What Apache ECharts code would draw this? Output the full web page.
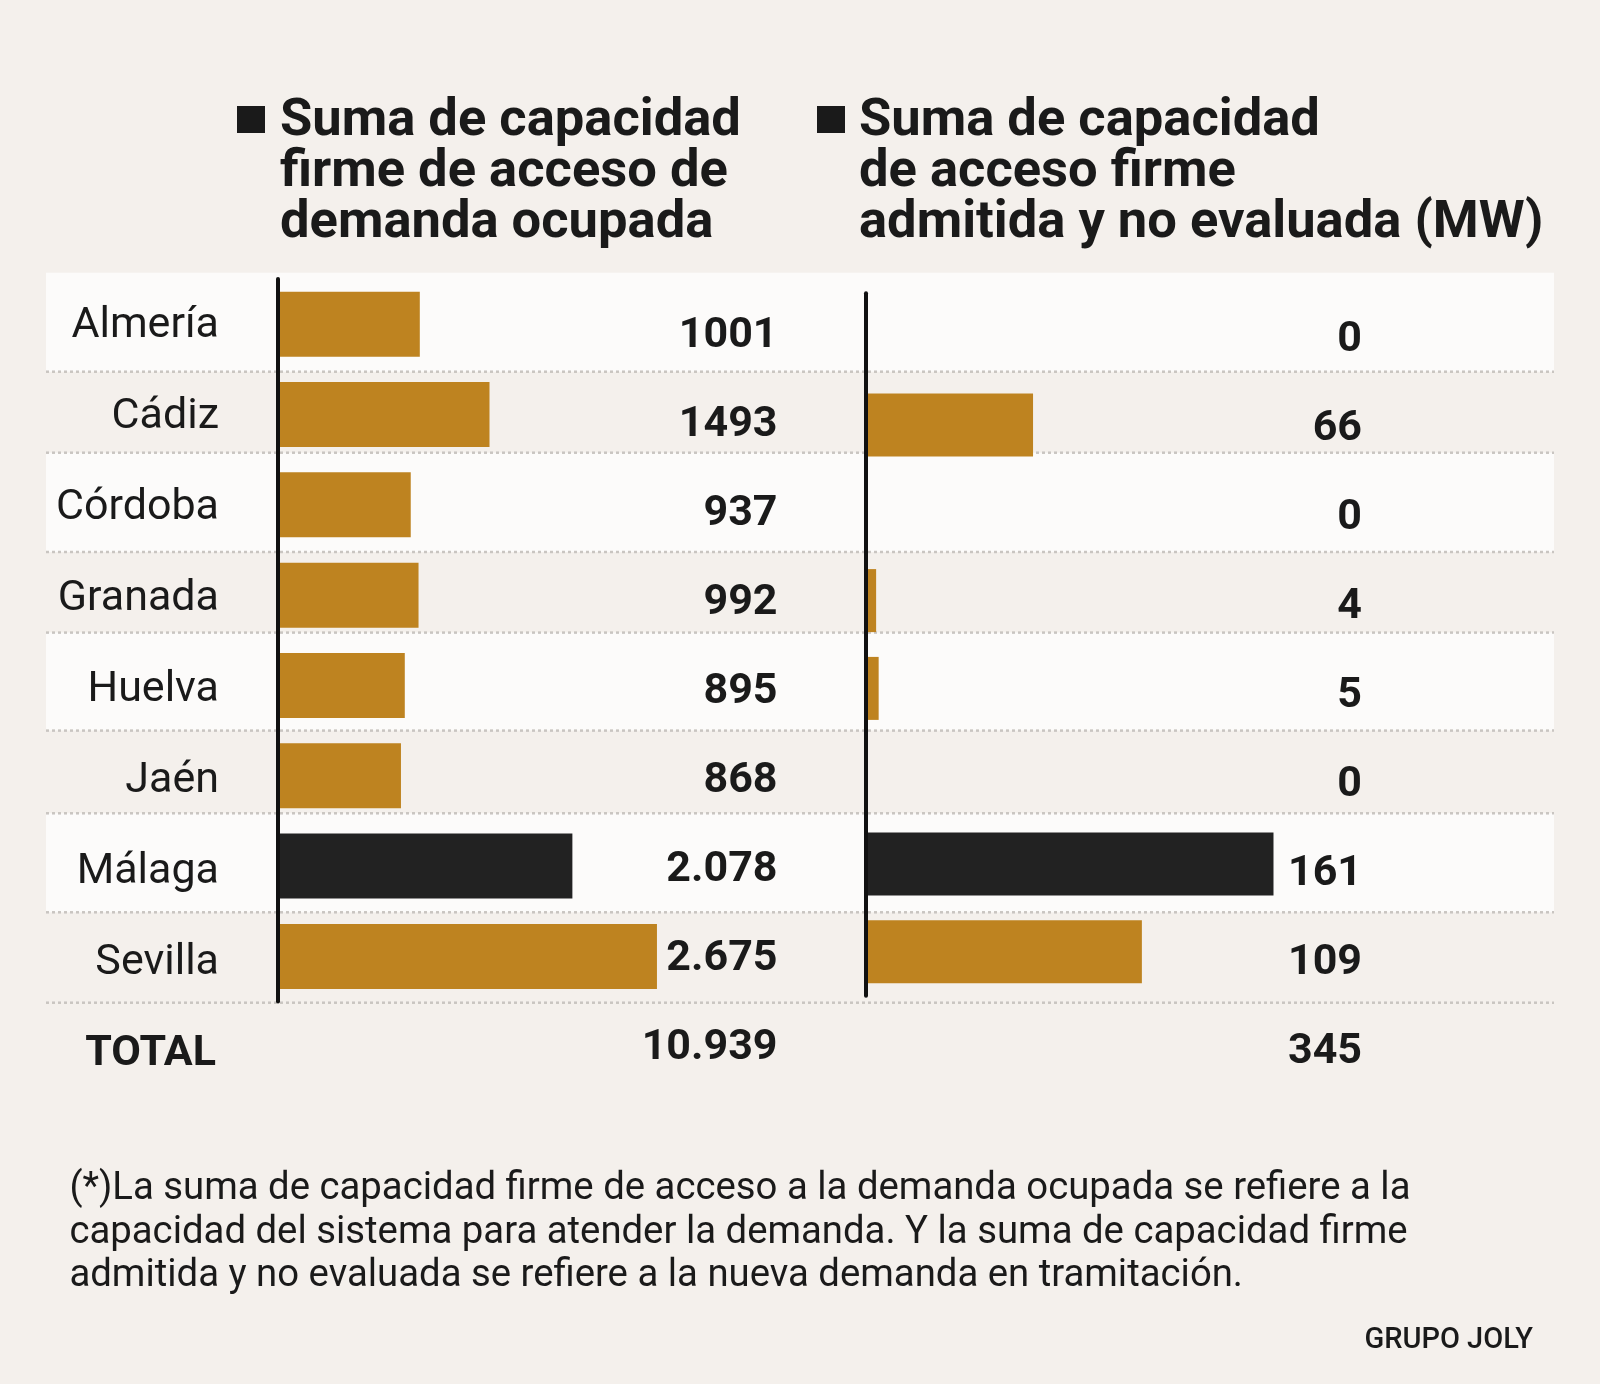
<!DOCTYPE html>
<html>
<head>
<meta charset="utf-8">
<script src="https://cdn.jsdelivr.net/npm/echarts@6/dist/echarts.min.js"></script>
<style>
html,body{margin:0;padding:0;background:#f4f0ec;}
#chart{width:1600px;height:1384px;}
</style>
</head>
<body>
<div id="chart"></div>
<script>
// ---- data ----
const categories = ['Almería', 'Cádiz', 'Córdoba', 'Granada', 'Huelva', 'Jaén', 'Málaga', 'Sevilla'];
const demandaOcupada = [1001, 1493, 937, 992, 895, 868, 2078, 2675];
const demandaOcupadaText = ['1001', '1493', '937', '992', '895', '868', '2.078', '2.675'];
const demandaTramitacion = [0, 66, 0, 4, 5, 0, 161, 109];
const highlighted = 'Málaga';
const totalLabel = 'TOTAL';
const titleLeft = ['Suma de capacidad', 'firme de acceso de', 'demanda ocupada'];
const titleRight = ['Suma de capacidad', 'de acceso firme', 'admitida y no evaluada (MW)'];
const footnote = [
  '(*)La suma de capacidad firme de acceso a la demanda ocupada se refiere a la',
  'capacidad del sistema para atender la demanda. Y la suma de capacidad firme',
  'admitida y no evaluada se refiere a la nueva demanda en tramitación.'
];
const source = 'GRUPO JOLY';

// ---- helpers ----
const fmt = v => String(v).replace(/\B(?=(\d{3})+(?!\d))/g, '.');
const sum = a => a.reduce((s, v) => s + v, 0);
const leftLabelText = demandaOcupadaText.concat([fmt(sum(demandaOcupada))]);
const rightLabelText = demandaTramitacion.map(String).concat([fmt(sum(demandaTramitacion))]);
const labelCats = categories.concat([totalLabel]);

// ---- style / layout ----
const FONT = 'Roboto';
const GOLD = '#be8320';
const DARK = '#222222';
const TEXT = '#1a1a1a';
const BAND = '#fcfbfa';
const DASH = '#c9c5c1';
const bandRows = [[272.7, 371.7], [452.7, 552], [632.6, 730.6], [813.3, 912.3]];
const dashRows = [371.7, 452.7, 552, 632.6, 730.6, 813.3, 912.3, 1002.7];

const barColor = p => (p.name === highlighted ? DARK : GOLD);

const graphics = [];
bandRows.forEach(r => graphics.push({
  type: 'rect', z: 0, silent: true,
  shape: { x: 46, y: r[0], width: 1508, height: r[1] - r[0] },
  style: { fill: BAND }
}));
dashRows.forEach(y => graphics.push({
  type: 'line', z: 1, silent: true,
  shape: { x1: 46, y1: y, x2: 1554, y2: y },
  style: { stroke: DASH, lineWidth: 2.5, lineDash: [3, 3] }
}));
// title squares + texts
[[237, titleLeft, 280], [817, titleRight, 859]].forEach(([sx, lines, tx]) => {
  graphics.push({ type: 'rect', z: 3, shape: { x: sx, y: 106, width: 28, height: 27 }, style: { fill: TEXT } });
  graphics.push({
    type: 'text', z: 3, x: tx, y: 96.5,
    style: { text: lines.join('\n'), font: 'bold 52.5px ' + FONT, lineHeight: 51, fill: TEXT, align: 'left', verticalAlign: 'top' }
  });
});
graphics.push({
  type: 'text', z: 3, x: 69.4, y: 1168,
  style: { text: footnote.join('\n'), font: '38.3px ' + FONT, lineHeight: 43.4, fill: TEXT, align: 'left', verticalAlign: 'top' }
});
graphics.push({
  type: 'text', z: 3, x: 1533, y: 1341,
  style: { text: source, font: '500 29px ' + FONT, fill: TEXT, align: 'right', verticalAlign: 'middle' }
});

const hiddenX = (idx, max) => ({
  type: 'value', gridIndex: idx, min: 0, max: max,
  show: false, splitLine: { show: false }
});

const valueLabel = (texts) => ({
  show: true, position: 'insideRight', distance: 0, fontSize: 43, fontWeight: 'bold',
  color: TEXT, fontFamily: FONT, formatter: p => texts[p.dataIndex]
});

const option = {
  backgroundColor: '#f4f0ec',
  animation: false,
  textStyle: { fontFamily: FONT },
  graphic: { elements: graphics },
  grid: [
    { left: 278, top: 279, width: 425, height: 722.6 },      // left bars
    { left: 866, top: 293.3, width: 506.2, height: 702.4 },  // right bars
    { left: 278, top: 292.1, width: 499.5, height: 801 },    // left value labels
    { left: 866, top: 296, width: 496, height: 800.5 },      // right value labels
    { left: 278, top: 280.8, width: 10, height: 818.6 }      // category names
  ],
  xAxis: [hiddenX(0, 3000), hiddenX(1, 200), hiddenX(2, 1), hiddenX(3, 1), hiddenX(4, 1)],
  yAxis: [
    {
      type: 'category', gridIndex: 0, data: categories, inverse: true, z: 5,
      axisLine: { show: true, lineStyle: { color: '#111', width: 4 } },
      axisTick: { show: false }, axisLabel: { show: false }
    },
    {
      type: 'category', gridIndex: 1, data: categories, inverse: true, z: 5,
      axisLine: { show: true, lineStyle: { color: '#111', width: 4 } },
      axisTick: { show: false }, axisLabel: { show: false }
    },
    { type: 'category', gridIndex: 2, data: labelCats, inverse: true, show: false },
    { type: 'category', gridIndex: 3, data: labelCats, inverse: true, show: false },
    {
      type: 'category', gridIndex: 4, data: labelCats, inverse: true,
      axisLine: { show: false }, axisTick: { show: false },
      axisLabel: {
        margin: 59, fontSize: 43, color: TEXT, fontFamily: FONT,
        formatter: v => (v === totalLabel ? '{t|' + v + '}' : v),
        rich: { t: { fontSize: 43, fontWeight: 'bold', color: TEXT, fontFamily: FONT, padding: [0, 3, 0, 0] } }
      }
    }
  ],
  series: [
    {
      type: 'bar', xAxisIndex: 0, yAxisIndex: 0, data: demandaOcupada, barWidth: 65, z: 4,
      itemStyle: { color: barColor }, silent: true
    },
    {
      type: 'bar', xAxisIndex: 1, yAxisIndex: 1, data: demandaTramitacion, barWidth: 63, z: 4,
      itemStyle: { color: barColor }, silent: true
    },
    {
      type: 'bar', xAxisIndex: 2, yAxisIndex: 2, data: labelCats.map(() => 1), barWidth: 2, z: 6,
      itemStyle: { color: 'rgba(0,0,0,0)' }, silent: true, label: valueLabel(leftLabelText)
    },
    {
      type: 'bar', xAxisIndex: 3, yAxisIndex: 3, data: labelCats.map(() => 1), barWidth: 2, z: 6,
      itemStyle: { color: 'rgba(0,0,0,0)' }, silent: true, label: valueLabel(rightLabelText)
    }
  ]
};

const chart = echarts.init(document.getElementById('chart'), null, { renderer: 'canvas' });
chart.setOption(option);
</script>
</body>
</html>
